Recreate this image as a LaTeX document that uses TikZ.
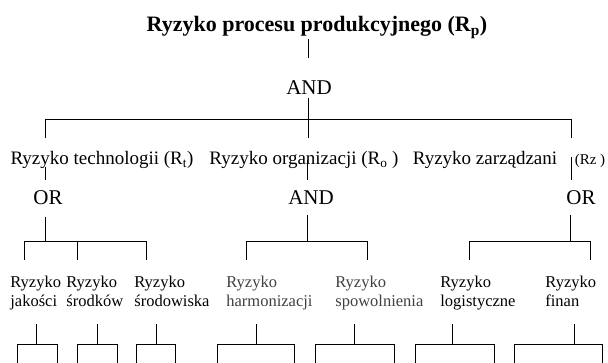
\documentclass[tikz,border=0pt]{standalone}
\usepackage{fontspec}
\setmainfont{Liberation Serif}
\usepackage{tikz}

\begin{document}
\begin{tikzpicture}[x=1pt,y=-1pt,line width=0.8pt,
  tytul/.style={font=\fontsize{22}{26}\selectfont\bfseries,inner sep=0pt,anchor=base},
  bramka/.style={font=\fontsize{21}{24}\selectfont,inner sep=0pt,anchor=base},
  ryzyko/.style={font=\fontsize{19}{22}\selectfont,inner sep=0pt,anchor=base},
  liść/.style={font=\fontsize{16.5}{19}\selectfont,inner sep=0pt,anchor=north west,align=left}]
\useasboundingbox (0,0) rectangle (608,363);
\node[tytul] (tytul) at (317,32) {Ryzyko procesu produkcyjnego (R\textsubscript{p})};
\node[bramka] (andGora) at (309,95) {AND};
\node[ryzyko] (techn) at (102,165) {Ryzyko technologii (R\textsubscript{t})};
\node[ryzyko] (organ) at (304,165) {Ryzyko organizacji (R\textsubscript{o} )};
\node[ryzyko] (zarz) at (485,165) {Ryzyko zarządzani};
\node[ryzyko,font=\fontsize{15}{18}\selectfont] (rz) at (590,165) {(Rz )};
\node[bramka] (orTechn) at (48,205) {OR};
\node[bramka] (andOrgan) at (311,205) {AND};
\node[bramka] (orZarz) at (581,205) {OR};
\node[liść] (jakosc) at (10,276) {Ryzyko\\jakości};
\node[liść] (srodki) at (66,276) {Ryzyko\\środków};
\node[liść] (srodow) at (134,276) {Ryzyko\\środowiska};
\node[liść,text=black!75] (harmon) at (226,276) {Ryzyko\\harmonizacji};
\node[liść,text=black!75] (spowol) at (335,276) {Ryzyko\\spowolnienia};
\node[liść] (logist) at (440,276) {Ryzyko\\logistyczne};
\node[liść] (finan) at (545,276) {Ryzyko\\finan};
\coordinate (g1) at (308,39);
\coordinate (g2) at (308,58);
\coordinate (g3) at (308,98);
\coordinate (pasL) at (45,119);
\coordinate (pasS) at (308,119);
\coordinate (pasP) at (571,119);
\draw (g1) -- (g2);
\draw (g3) -- (pasS);
\draw (pasL) -- (pasP);
\draw (pasL) -- (45,138);
\draw (pasS) -- (308,138);
\draw (pasP) -- (571,138);
\draw (45,167) -- (45,180);
\draw (307,160) -- (307,180);
\draw (571,157) -- (571,180);
\draw (45,217) -- (45,241);
\draw (307,215) -- (307,241);
\draw (570,215) -- (570,241);
\draw (24,260) -- (24,241) -- (146,241) -- (146,260);
\draw (77,241) -- (77,260);
\draw (246,260) -- (246,241) -- (367,241) -- (367,260);
\draw (469,260) -- (469,241) -- (590,241) -- (590,260);
\draw (36,324) -- (36,344);
\draw (17,363) -- (17,344) -- (57,344) -- (57,363);
\draw (97,324) -- (97,344);
\draw (77,363) -- (77,344) -- (117,344) -- (117,363);
\draw (156,324) -- (156,344);
\draw (136,363) -- (136,344) -- (175,344) -- (175,363);
\draw (256,324) -- (256,344);
\draw (217,363) -- (217,344) -- (294,344) -- (294,363);
\draw (354,324) -- (354,344);
\draw (315,363) -- (315,344) -- (394,344) -- (394,363);
\draw (452,324) -- (452,344);
\draw (415,363) -- (415,344) -- (494,344) -- (494,363);
\draw (574,324) -- (574,344);
\draw (514,363) -- (514,344) -- (602,344) -- (602,363);
\end{tikzpicture}
\end{document}
